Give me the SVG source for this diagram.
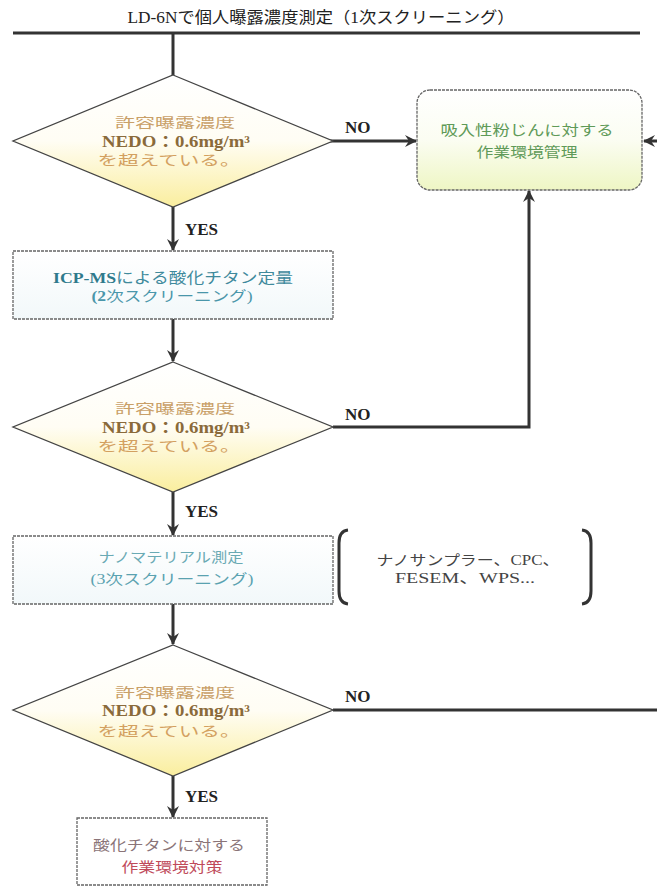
<svg xmlns="http://www.w3.org/2000/svg" width="657" height="886" viewBox="0 0 657 886">
<style>
.t{font-family:"Liberation Serif","Noto Sans CJK JP",serif;text-anchor:middle}
.line{fill:none;stroke:#333;stroke-width:3}
.dia{stroke:#444;stroke-width:1.3}
.box{stroke:#666;stroke-width:1.3;stroke-dasharray:3 1}
.lbl{font-family:"Liberation Serif",serif;font-weight:bold;font-size:17px;fill:#222}
.d1{font-size:13px;fill:#c9a068}
.d2{font-size:16px;font-weight:bold;fill:#8a6a3a}
.d3{font-size:14px;fill:#d3a060}
</style>
<defs>
<marker id="ah" markerWidth="12" markerHeight="12" viewBox="0 0 12 12" refX="11" refY="6" orient="auto" markerUnits="userSpaceOnUse">
<path d="M0,0 L12,6 L0,12 L4,6 z" fill="#333"/>
</marker>
<linearGradient id="gd" x1="0" y1="0" x2="0" y2="1">
<stop offset="0" stop-color="#ffffff"/>
<stop offset="0.5" stop-color="#fffdf4"/>
<stop offset="1" stop-color="#faee9e"/>
</linearGradient>
<linearGradient id="gg" x1="0" y1="0" x2="0" y2="1">
<stop offset="0" stop-color="#ffffff"/>
<stop offset="0.5" stop-color="#fbfdf2"/>
<stop offset="1" stop-color="#eef6c4"/>
</linearGradient>
<linearGradient id="gb" x1="0" y1="0" x2="0" y2="1">
<stop offset="0" stop-color="#ffffff"/>
<stop offset="1" stop-color="#f2f8fa"/>
</linearGradient>
</defs>

<text class="t" x="321" y="23" font-size="16" fill="#222" textLength="387" lengthAdjust="spacingAndGlyphs">LD-6Nで個人曝露濃度測定（1次スクリーニング）</text>

<g id="connectors">
<line class="line" x1="13" y1="33" x2="640" y2="33"/>
<line class="line" x1="173" y1="33" x2="173" y2="75"/>
<line class="line" x1="328" y1="141" x2="416" y2="141" marker-end="url(#ah)"/>
<line class="line" x1="173" y1="207" x2="173" y2="250" marker-end="url(#ah)"/>
<line class="line" x1="173" y1="319" x2="173" y2="361" marker-end="url(#ah)"/>
<polyline class="line" points="333,427 529,427 529,191" marker-end="url(#ah)"/>
<line class="line" x1="657" y1="141" x2="644" y2="141" marker-end="url(#ah)"/>
<line class="line" x1="173" y1="492" x2="173" y2="535" marker-end="url(#ah)"/>
<line class="line" x1="173" y1="604" x2="173" y2="644" marker-end="url(#ah)"/>
<line class="line" x1="333" y1="710" x2="657" y2="710"/>
<line class="line" x1="173" y1="776" x2="173" y2="817" marker-end="url(#ah)"/>
<text class="lbl" x="345" y="133">NO</text>
<text class="lbl" x="185" y="235">YES</text>
<text class="lbl" x="345" y="420">NO</text>
<text class="lbl" x="185" y="517">YES</text>
<text class="lbl" x="345" y="702">NO</text>
<text class="lbl" x="185" y="802">YES</text>
</g>

<g id="decision1">
<polygon class="dia" points="173,75 333,141 173,207 13,141" fill="url(#gd)"/>
<text class="t d1" x="175" y="127" textLength="120" lengthAdjust="spacingAndGlyphs">許容曝露濃度</text>
<text class="t d2" x="176" y="147" textLength="148" lengthAdjust="spacingAndGlyphs">NEDO：0.6mg/m³</text>
<text class="t d3" x="169" y="165" textLength="143" lengthAdjust="spacingAndGlyphs">を超えている。</text>
</g>

<g id="dust-management">
<rect class="box" x="417" y="90" width="225" height="100" rx="13" fill="url(#gg)"/>
<text class="t" x="527" y="135" font-size="14" fill="#5f9a58" textLength="173" lengthAdjust="spacingAndGlyphs">吸入性粉じんに対する</text>
<text class="t" x="527" y="157" font-size="14" fill="#5f9a58" textLength="101" lengthAdjust="spacingAndGlyphs">作業環境管理</text>
</g>

<g id="icpms">
<rect class="box" x="13" y="251" width="320" height="68" fill="url(#gb)"/>
<text class="t" x="173" y="283" font-size="15" fill="#3f8a9c" textLength="240" lengthAdjust="spacingAndGlyphs"><tspan font-weight="bold" fill="#2f7a8c">ICP-MS</tspan>による酸化チタン定量</text>
<text class="t" x="172" y="301" font-size="14" fill="#4a96aa" textLength="161" lengthAdjust="spacingAndGlyphs"><tspan font-weight="bold">(2</tspan>次スクリーニング)</text>
</g>

<g id="decision2">
<polygon class="dia" points="173,362 333,427 173,492 13,427" fill="url(#gd)"/>
<text class="t d1" x="175" y="413" textLength="120" lengthAdjust="spacingAndGlyphs">許容曝露濃度</text>
<text class="t d2" x="176" y="433" textLength="148" lengthAdjust="spacingAndGlyphs">NEDO：0.6mg/m³</text>
<text class="t d3" x="169" y="451" textLength="143" lengthAdjust="spacingAndGlyphs">を超えている。</text>
</g>

<g id="nanomaterial">
<rect class="box" x="13" y="536" width="320" height="68" fill="url(#gb)"/>
<text class="t" x="171" y="562" font-size="14" fill="#6aaab4" textLength="145" lengthAdjust="spacingAndGlyphs">ナノマテリアル測定</text>
<text class="t" x="172" y="584" font-size="14" fill="#5aa2b0" textLength="163" lengthAdjust="spacingAndGlyphs">(3次スクリーニング)</text>
</g>

<g id="instruments">
<path d="M348,530 Q339,531 339,543 L339,591 Q339,603 348,604" fill="none" stroke="#333" stroke-width="3"/>
<path d="M582,530 Q591,531 591,543 L591,591 Q591,603 582,604" fill="none" stroke="#333" stroke-width="3"/>
<text class="t" x="468" y="565" font-size="14" fill="#444" textLength="183" lengthAdjust="spacingAndGlyphs">ナノサンプラー、CPC、</text>
<text class="t" x="465" y="583" font-size="14" fill="#444" textLength="140" lengthAdjust="spacingAndGlyphs">FESEM、WPS...</text>
</g>

<g id="decision3">
<polygon class="dia" points="173,645 333,710 173,776 13,710" fill="url(#gd)"/>
<text class="t d1" x="175" y="697" textLength="120" lengthAdjust="spacingAndGlyphs">許容曝露濃度</text>
<text class="t d2" x="176" y="716" textLength="148" lengthAdjust="spacingAndGlyphs">NEDO：0.6mg/m³</text>
<text class="t d3" x="169" y="736" textLength="143" lengthAdjust="spacingAndGlyphs">を超えている。</text>
</g>

<g id="titanium-measures">
<rect class="box" x="77" y="818" width="190" height="67" fill="#ffffff"/>
<text class="t" x="169" y="850" font-size="14" fill="#8a7478" textLength="152" lengthAdjust="spacingAndGlyphs">酸化チタンに対する</text>
<text class="t" x="172" y="872" font-size="14" fill="#c04a5a" textLength="101" lengthAdjust="spacingAndGlyphs">作業環境対策</text>
</g>
</svg>
